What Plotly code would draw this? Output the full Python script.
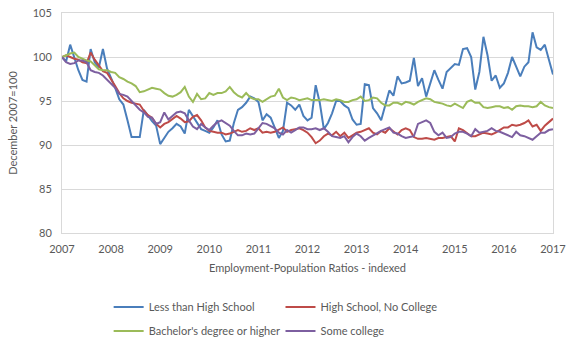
import plotly.graph_objects as go

# Monthly index values, December 2007 = 100 (121 months)
tick_labels = ["2007", "2008", "2009", "2010", "2011", "2012", "2013", "2014", "2015", "2016", "2017"]

less_than_hs = [
    100.0, 99.5, 101.4, 100.0, 98.5, 97.4, 97.2, 100.9, 99.4, 98.8,
    100.9, 98.7, 97.7, 96.5, 95.2, 94.6, 92.8, 90.9, 90.9, 90.9,
    94.0, 93.3, 92.7, 92.2, 90.1, 90.8, 91.5, 91.9, 92.4, 92.1,
    91.3, 94.0, 93.3, 92.6, 91.8, 91.6, 91.4, 92.0, 92.8, 91.2,
    90.4, 90.5, 92.5, 94.0, 94.3, 94.8, 95.5, 95.3, 94.9, 92.8,
    93.5, 93.1, 92.0, 90.8, 91.6, 94.8, 94.5, 94.0, 94.6, 93.3,
    92.8, 93.1, 96.8, 94.8, 91.8, 92.5, 93.6, 95.0, 95.0, 94.5,
    94.2, 92.9, 92.3, 92.4, 96.9, 96.8, 94.2, 93.6, 92.8, 94.6,
    96.2, 95.6, 97.8, 97.0, 97.1, 97.3, 99.9, 96.7, 97.6, 95.5,
    96.9, 98.5, 97.4, 96.4, 98.3, 98.7, 99.2, 99.1, 100.9, 101.0,
    100.0, 96.3, 98.3, 102.3, 100.2, 97.3, 97.9, 96.5, 97.0, 98.2,
    100.0, 98.9, 97.8, 98.9, 99.4, 102.8, 101.1, 100.8, 101.4, 99.7,
    98.0,
]

hs_no_college = [
    100.0, 100.2, 100.0, 99.8, 99.7, 99.4, 99.3, 100.5, 99.7, 99.1,
    98.4, 98.2, 97.5, 96.7, 95.9, 95.3, 95.0, 94.8, 94.7, 94.6,
    93.9, 93.4, 93.1, 92.4, 92.0, 92.4, 92.6, 92.9, 93.3, 93.0,
    92.6, 92.7, 93.2, 93.4, 92.8, 92.0, 91.6, 91.5, 91.4, 91.4,
    91.2, 91.3, 91.5, 91.7, 91.5, 91.6, 91.9, 91.7, 91.9, 91.4,
    91.5, 91.4, 91.5, 91.8, 92.0, 91.5, 91.7, 91.8, 91.9, 91.7,
    91.4, 90.9, 90.2, 90.5, 91.0, 91.3, 91.1, 91.5, 91.0, 91.4,
    90.8, 91.1, 91.4, 91.5, 91.7, 91.9, 91.4, 91.2, 91.6, 91.4,
    91.9, 91.5, 91.2, 91.7, 91.9, 91.7, 90.9, 90.7, 90.7, 90.8,
    90.7, 90.6, 90.8, 90.8, 90.9, 91.0, 90.4, 91.9, 91.7, 91.3,
    91.0, 91.0, 91.2, 91.4, 91.3, 91.2, 91.4, 91.7, 92.0, 92.0,
    92.3, 92.2, 92.3, 92.5, 92.8, 92.1, 92.3, 91.6, 92.2, 92.6,
    93.0,
]

bachelors = [
    100.0, 100.2, 100.4, 100.5, 100.0, 99.8, 99.6, 99.5, 99.0, 98.6,
    98.5, 98.5, 98.3, 98.2, 97.7, 97.5, 97.2, 97.0, 96.7, 96.0,
    96.1, 96.3, 96.5, 96.4, 96.3, 95.9, 95.6, 95.5, 95.7, 96.0,
    96.6, 95.5, 94.9, 95.8, 95.2, 95.3, 95.9, 95.7, 95.9, 95.9,
    96.1, 96.6, 96.0, 95.6, 95.4, 95.9, 95.4, 95.2, 95.2, 94.9,
    95.2, 95.5, 95.6, 96.4, 95.4, 95.1, 95.4, 95.3, 95.1, 95.2,
    95.3, 95.1, 95.1, 95.1, 95.2, 95.1, 95.0, 95.2, 95.1, 94.9,
    94.9, 95.1, 95.2, 95.5, 95.0, 95.1, 95.4, 95.3, 94.8, 94.5,
    94.5, 94.8, 94.8, 94.6, 94.9, 94.8, 94.6, 94.9, 95.1, 95.3,
    95.2, 94.9, 94.8, 94.7, 94.5, 94.4, 94.7, 94.4, 94.2, 94.9,
    95.1, 94.8, 94.8, 94.3, 94.2, 94.3, 94.4, 94.4, 94.2, 94.3,
    94.0, 94.4, 94.5, 94.4, 94.4, 94.3, 94.4, 94.9, 94.5, 94.3,
    94.2,
]

some_college = [
    100.0, 99.4, 99.2, 99.3, 99.6, 99.6, 99.4, 98.5, 98.3, 98.2,
    97.9, 97.4, 97.0, 96.5, 95.8, 95.7, 95.5, 95.0, 94.5, 94.0,
    93.7, 93.2, 93.1, 92.4, 92.6, 93.7, 92.9, 93.3, 93.7, 93.8,
    93.6, 92.8, 92.1, 91.8, 92.4, 92.0, 91.7, 92.2, 92.6, 92.8,
    92.5, 92.2, 91.6, 91.1, 91.1, 91.3, 91.2, 91.3, 91.9, 92.5,
    92.4, 92.1, 91.9, 91.4, 91.2, 91.7, 91.4, 91.7, 92.0, 92.0,
    91.8, 91.8, 91.9, 91.7, 91.9, 91.5, 91.0, 90.9, 90.8, 91.0,
    90.3, 90.9, 91.3, 91.0, 90.5, 90.8, 91.1, 91.4, 91.6, 91.8,
    92.0, 91.4, 91.3, 91.0, 90.8, 90.9, 91.0, 92.4, 92.6, 92.8,
    92.5, 91.5, 91.1, 91.4, 90.8, 90.9, 91.3, 91.5, 91.5, 91.3,
    91.0, 91.8, 91.4, 91.5, 91.6, 91.9, 91.6, 91.5, 91.3, 91.1,
    90.9, 91.5, 91.1, 91.0, 90.8, 90.6, 91.0, 91.4, 91.4, 91.7,
    91.8,
]

start_year = 2007
months = [start_year + i / 12 for i in range(len(less_than_hs))]
tick_vals = [int(t) for t in tick_labels]

FONT = "Lato"
TXT = "#595959"
GRID = "#d9d9d9"

# (name, values, colour, legend, legend group) in drawing order
series = [
    ("Less than High School", less_than_hs, "#4a7ebb", "legend", "g1"),
    ("High School, No College", hs_no_college, "#be4b48", "legend2", "g3"),
    ("Bachelor's degree or higher", bachelors, "#9bbb59", "legend", "g2"),
    ("Some college", some_college, "#7d5fa0", "legend2", "g4"),
]

fig = go.Figure()
for name, vals, col, leg, grp in series:
    fig.add_trace(go.Scatter(
        x=months, y=vals, mode="lines", name=name,
        line=dict(color=col, width=2), legend=leg, legendgroup=grp,
    ))

legend_common = dict(
    orientation="v", traceorder="grouped", tracegroupgap=5,
    xanchor="left", yanchor="top", y=-0.27,
    font=dict(family=FONT, size=11, color=TXT),
    bgcolor="rgba(0,0,0,0)", borderwidth=0,
)

fig.update_layout(
    width=567, height=340,
    margin=dict(l=62, r=14, t=13, b=107, autoexpand=False),
    paper_bgcolor="white", plot_bgcolor="white",
    font=dict(family=FONT, size=11, color=TXT),
    showlegend=True,
    legend=dict(x=0.095, **legend_common),
    legend2=dict(x=0.445, **legend_common),
    xaxis=dict(
        range=[2007, 2017], tickvals=tick_vals, ticktext=tick_labels,
        showgrid=False, showline=True, linecolor=GRID, linewidth=1, mirror=True,
        ticks="", zeroline=False, ticklabelstandoff=6,
        tickfont=dict(family=FONT, size=11, color=TXT),
        title=dict(text="Employment-Population Ratios - indexed",
                   font=dict(family=FONT, size=11, color=TXT), standoff=10),
    ),
    yaxis=dict(
        range=[80, 105], dtick=5, tick0=80,
        showgrid=True, gridcolor=GRID, gridwidth=1,
        showline=True, linecolor=GRID, linewidth=1, mirror=True,
        ticks="", zeroline=False, ticklabelstandoff=7,
        tickfont=dict(family=FONT, size=11, color=TXT),
        title=dict(text="December 2007=100",
                   font=dict(family=FONT, size=11, color=TXT), standoff=12),
    ),
)

fig.write_html("out.html")
